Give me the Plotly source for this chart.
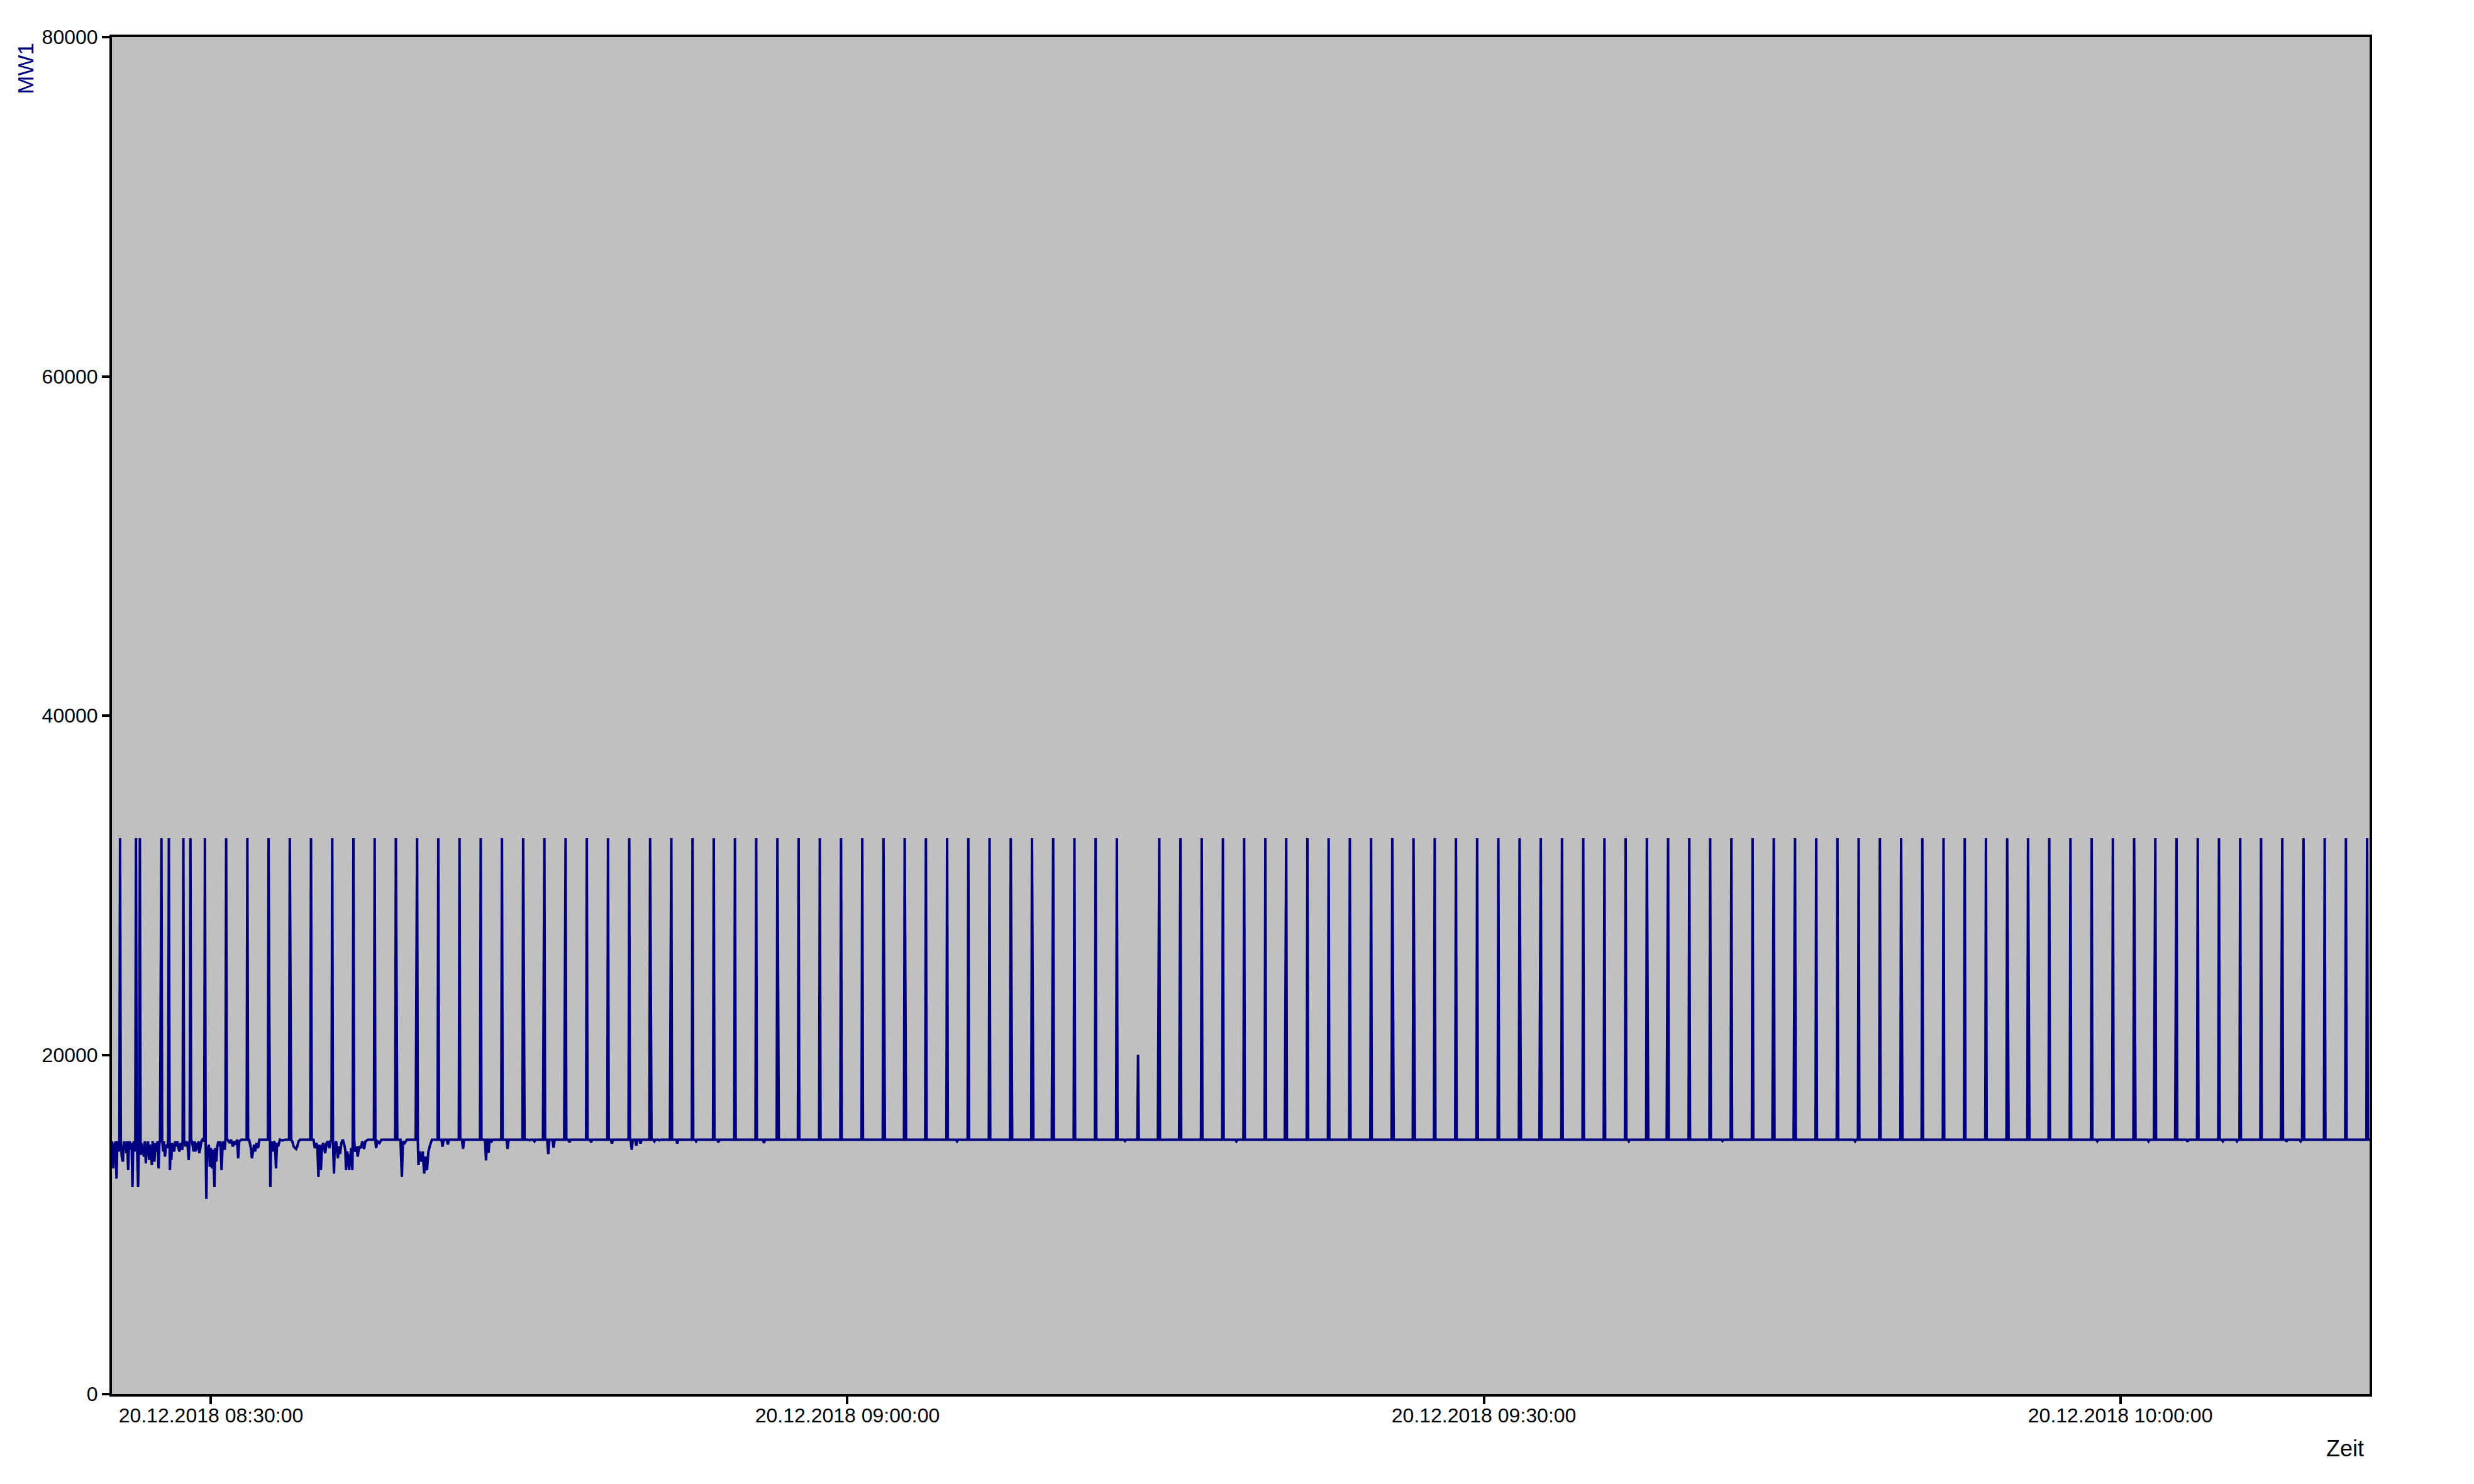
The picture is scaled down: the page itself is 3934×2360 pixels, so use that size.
import plotly.graph_objects as go

DAY = "2018-12-20"
BASE = 15000
SPIKE_LEVEL = 32767

x_start = "08:25:20"
x_end = "10:11:45"

y_ticks = [0, 20000, 40000, 60000, 80000]
x_tick_times = ["08:30:00", "09:00:00", "09:30:00", "10:00:00"]
x_tick_labels = ["20.12.2018 08:30:00", "20.12.2018 09:00:00",
                 "20.12.2018 09:30:00", "20.12.2018 10:00:00"]

# spikes reaching the 32767 level
spike_times = [
    "08:25:43", "08:26:28", "08:26:39", "08:27:40", "08:28:01", "08:28:42", "08:29:02", "08:29:43",
    "08:30:43", "08:31:43", "08:32:43", "08:33:43", "08:34:43", "08:35:43", "08:36:43", "08:37:43",
    "08:38:43", "08:39:43", "08:40:43", "08:41:43", "08:42:43", "08:43:43", "08:44:43", "08:45:43",
    "08:46:43", "08:47:43", "08:48:43", "08:49:43",
    "08:50:42", "08:51:42", "08:52:42", "08:53:42", "08:54:42", "08:55:42", "08:56:42", "08:57:42",
    "08:58:42", "08:59:42", "09:00:42", "09:01:42", "09:02:42", "09:03:42", "09:04:42", "09:05:42",
    "09:06:42", "09:07:42", "09:08:42", "09:09:42", "09:10:42", "09:11:42", "09:12:42",
    "09:14:42", "09:15:42", "09:16:42", "09:17:42", "09:18:42", "09:19:42",
    "09:20:41", "09:21:41", "09:22:41", "09:23:41", "09:24:41", "09:25:41", "09:26:41", "09:27:41",
    "09:28:41", "09:29:41", "09:30:41", "09:31:41", "09:32:41", "09:33:41", "09:34:41", "09:35:41",
    "09:36:41", "09:37:41", "09:38:41", "09:39:41",
    "09:40:40", "09:41:40", "09:42:40", "09:43:40", "09:44:40", "09:45:40", "09:46:40", "09:47:40",
    "09:48:40", "09:49:40", "09:50:40", "09:51:40", "09:52:40", "09:53:40", "09:54:40",
    "09:55:39", "09:56:39", "09:57:39", "09:58:39", "09:59:39", "10:00:39", "10:01:39", "10:02:39",
    "10:03:39", "10:04:39", "10:05:39",
    "10:06:38", "10:07:38", "10:08:38", "10:09:38", "10:10:38", "10:11:38",
]

# spikes with a lower peak
partial_spike_times = ["09:13:42"]
partial_spike_values = [20000]

# second samples next to a spike (shoulder at ~24000)
sec_times = [
    "08:27:38", "08:32:45", "08:33:45", "08:38:45", "08:39:41", "08:44:45", "08:45:41", "08:46:41",
    "08:50:44", "08:51:40", "08:56:44", "09:01:44", "09:02:44", "09:07:44", "09:08:44", "09:09:40",
    "09:14:40", "09:15:40", "09:20:39", "09:25:43", "09:26:43", "09:31:43", "09:32:39", "09:37:43",
    "09:38:39", "09:43:38", "09:44:38", "09:49:42", "09:54:42", "09:55:41", "10:00:41", "10:01:37",
    "10:02:37", "10:07:36", "10:08:36",
]
sec_values = [
    23900, 22500, 23900, 23900, 23900, 23900, 23900, 23900,
    23900, 23900, 23900, 23900, 23900, 23900, 23900, 23900,
    23900, 23900, 23900, 23900, 23900, 23900, 23900, 23900,
    23900, 23900, 23900, 23900, 23900, 23900, 23900, 23900,
    23900, 23900, 23900,
]

# noisy start of the record (all samples)
noise_times = [
    "08:25:20", "08:25:22", "08:25:24", "08:25:26", "08:25:28", "08:25:30", "08:25:33", "08:25:35",
    "08:25:37", "08:25:39", "08:25:41", "08:25:46", "08:25:48", "08:25:51", "08:25:53", "08:25:55",
    "08:25:57", "08:25:59", "08:26:01", "08:26:03", "08:26:06", "08:26:08", "08:26:10", "08:26:12",
    "08:26:14", "08:26:16", "08:26:18", "08:26:20", "08:26:22", "08:26:24", "08:26:31", "08:26:34",
    "08:26:36", "08:26:42", "08:26:44", "08:26:46", "08:26:48", "08:26:50", "08:26:53", "08:26:56",
    "08:26:58", "08:27:00", "08:27:02", "08:27:05", "08:27:07", "08:27:10", "08:27:13", "08:27:15",
    "08:27:18", "08:27:20", "08:27:23", "08:27:26", "08:27:29", "08:27:32", "08:27:34", "08:27:45",
    "08:27:47", "08:27:50", "08:27:53", "08:27:56", "08:27:58", "08:28:04", "08:28:06", "08:28:08",
    "08:28:10", "08:28:13", "08:28:16", "08:28:19", "08:28:22", "08:28:25", "08:28:28", "08:28:31",
    "08:28:34", "08:28:37", "08:28:39", "08:28:46", "08:28:48", "08:28:51", "08:28:54", "08:28:57",
    "08:28:59", "08:29:06", "08:29:08", "08:29:11", "08:29:14", "08:29:16", "08:29:19", "08:29:22",
    "08:29:25", "08:29:27", "08:29:30", "08:29:33", "08:29:36", "08:29:39", "08:29:47", "08:29:49",
    "08:29:51", "08:29:54", "08:29:57", "08:30:00", "08:30:03", "08:30:06", "08:30:10", "08:30:12",
    "08:30:15", "08:30:18", "08:30:21", "08:30:24", "08:30:27", "08:30:30", "08:30:33", "08:30:36",
    "08:30:39", "08:30:47", "08:30:53", "08:30:57", "08:31:02", "08:31:06", "08:31:10", "08:31:14",
    "08:31:17", "08:31:20", "08:31:26", "08:31:38", "08:31:48", "08:31:53", "08:31:56", "08:31:59",
    "08:32:02", "08:32:05", "08:32:09", "08:32:13", "08:32:17", "08:32:38", "08:32:48", "08:32:50",
    "08:32:55", "08:32:58", "08:33:01", "08:33:04", "08:33:07", "08:33:10", "08:33:15", "08:33:22",
    "08:33:30", "08:33:50", "08:33:54", "08:33:58", "08:34:01", "08:34:04", "08:34:08", "08:34:12",
    "08:34:50", "08:34:54", "08:34:58", "08:35:01", "08:35:04", "08:35:07", "08:35:11", "08:35:14",
    "08:35:18", "08:35:23", "08:35:27", "08:35:31", "08:35:35", "08:35:38", "08:35:48", "08:35:50",
    "08:35:54", "08:35:59", "08:36:02", "08:36:05", "08:36:09", "08:36:13", "08:36:17", "08:36:20",
    "08:36:22", "08:36:25", "08:36:28", "08:36:31", "08:36:34", "08:36:37", "08:36:40", "08:36:47",
    "08:36:49", "08:36:52", "08:36:55", "08:36:59", "08:37:04", "08:37:08", "08:37:13", "08:37:17",
    "08:37:24", "08:37:38", "08:37:47", "08:37:51", "08:37:57", "08:38:02", "08:38:56", "08:39:00",
    "08:39:03", "08:39:08", "08:39:14", "08:39:47", "08:39:50", "08:39:56", "08:39:59", "08:40:03",
    "08:40:07", "08:40:11", "08:40:15", "08:40:20", "08:40:25",
]
noise_values = [
    14900, 14500, 13300, 14800, 14400, 14900, 12700, 14600,
    14900, 14300, 14800, 14500, 14000, 13700, 14600, 14900,
    14400, 14800, 14200, 14900, 13200, 14700, 14900, 14400,
    14800, 14500, 12200, 14600, 14900, 14300, 14700, 12200,
    14600, 14100, 14800, 14200, 14600, 14000, 14900, 13600,
    14800, 14300, 14900, 13800, 14700, 14400, 13500, 14900,
    14500, 13700, 14800, 14300, 14900, 13300, 14700, 14300,
    14900, 14000, 14700, 14500, 14800, 13200, 14600, 13800,
    14800, 14500, 14300, 14900, 14600, 14900, 14500, 14300,
    14800, 14600, 14400, 14800, 14600, 14900, 14700, 13800,
    14800, 14900, 14700, 14300, 14900, 14300, 14800, 14400,
    14900, 14200, 14500, 14900, 15000, 14900, 11500, 14600,
    14200, 14700, 13400, 14500, 13300, 14400, 12200, 14500,
    13700, 14600, 14900, 14600, 14900, 13200, 14700, 14900,
    14400, 15000, 14800, 15000, 14600, 14900, 14700, 15000,
    13900, 14900, 15000, 15000, 15000, 14500, 13900, 14300,
    14700, 14300, 14800, 14500, 15000, 15000, 12200, 14900,
    14300, 14900, 14800, 13300, 14800, 14600, 15000, 14950,
    15000, 14900, 14600, 14500, 14450, 14600, 14900, 15000,
    15000, 14500, 14800, 14600, 12800, 14700, 13200, 14600,
    14800, 14200, 14800, 14900, 14500, 14900, 13000, 14600,
    14900, 13900, 14600, 14150, 14800, 15000, 14700, 14400,
    13200, 14300, 14000, 13200, 14000, 14500, 13200, 14400,
    14300, 14600, 14000, 14600, 14500, 14900, 14450, 14900,
    15000, 15000, 14500, 14900, 14800, 15000, 15000, 12800,
    14900, 14800, 15000, 13500, 14300, 13700, 14300, 13000,
    14000, 13200, 14300, 14700, 15000,
]

# isolated short dips below the baseline later on
dip_times = [
    "08:40:55", "08:41:10", "08:41:53", "08:42:58", "08:43:05", "08:43:14", "08:43:59", "08:45:01",
    "08:45:15", "08:45:54", "08:46:09", "08:46:54", "08:47:55", "08:48:54", "08:49:50", "08:50:03",
    "08:50:15", "08:50:54", "08:51:08", "08:51:59", "08:52:52", "08:53:55", "08:56:04", "09:05:10",
    "09:13:05", "09:18:20", "09:36:50", "09:41:15", "09:47:30", "09:58:55", "10:01:20", "10:03:10",
    "10:04:50", "10:05:30", "10:07:50", "10:08:30",
]
dip_values = [
    14590, 14710, 14460, 13780, 14220, 14900, 14460, 14960,
    14900, 14150, 14520, 14840, 14840, 14770, 14400, 14650,
    14770, 14900, 14960, 14770, 14900, 14840, 14800, 14900,
    14920, 14900, 14900, 14920, 14900, 14900, 14900, 14880,
    14900, 14900, 14880, 14900,
]

assert len(noise_times) == len(noise_values)
assert len(dip_times) == len(dip_values)
assert len(sec_times) == len(sec_values)


def secs(t):
    h, m, s = map(int, t.split(":"))
    return h * 3600 + m * 60 + s


def stamp(s):
    return f"{DAY} {s // 3600:02d}:{(s % 3600) // 60:02d}:{s % 60:02d}"


pts = {}
for t, v in zip(noise_times, noise_values):
    pts[secs(t)] = v
pts.setdefault(secs(x_start), BASE)
pts.setdefault(secs(x_end), BASE)

all_spikes = [(secs(t), SPIKE_LEVEL) for t in spike_times] + \
             [(secs(t), v) for t, v in zip(partial_spike_times, partial_spike_values)]
spike_secs = sorted(s for s, _ in all_spikes)

# shoulders beside spikes
for t, v in zip(sec_times, sec_values):
    ts = secs(t)
    near = min(spike_secs, key=lambda s: abs(s - ts))
    side = 1 if ts > near else -1
    pts[ts] = v
    pts.setdefault(ts + 2 * side, BASE)

for ts, v in all_spikes:
    pts[ts] = v
    pts.setdefault(ts - 2, BASE)
    pts.setdefault(ts + 2, BASE)

for t, v in zip(dip_times, dip_values):
    ts = secs(t)
    pts.setdefault(ts - 3, BASE)
    pts[ts] = v
    pts.setdefault(ts + 3, BASE)

keys = sorted(pts)
xs = [stamp(k) for k in keys]
ys = [pts[k] for k in keys]

FONT = "Arial, 'Liberation Sans', sans-serif"

fig = go.Figure()
fig.add_trace(go.Scatter(
    x=xs, y=ys, mode="lines",
    line=dict(color="#000080", width=4, simplify=False),
    hoverinfo="skip", showlegend=False,
))

fig.update_layout(
    width=3918, height=2344,
    margin=dict(l=170, r=158, t=51, b=135),
    paper_bgcolor="white",
    plot_bgcolor="#C0C0C0",
    font=dict(family=FONT, size=32, color="black"),
    showlegend=False,
    xaxis=dict(
        type="date",
        range=[f"{DAY} {x_start}", f"{DAY} {x_end}"],
        tickvals=[f"{DAY} {t}" for t in x_tick_times],
        ticktext=x_tick_labels,
        ticks="outside", ticklen=12, tickwidth=4, tickcolor="black",
        ticklabelstandoff=-9,
        showline=True, linewidth=4, linecolor="black", mirror=True,
        showgrid=False, zeroline=False,
        tickfont=dict(family=FONT, size=32, color="black"),
    ),
    yaxis=dict(
        range=[0, 80000],
        tickvals=y_ticks,
        ticktext=[str(v) for v in y_ticks],
        ticks="outside", ticklen=12, tickwidth=4, tickcolor="black",
        showline=True, linewidth=4, linecolor="black", mirror=True,
        showgrid=False, zeroline=False,
        tickfont=dict(family=FONT, size=32, color="black"),
    ),
    annotations=[
        dict(text="MW1", xref="paper", yref="paper", x=-0.0384, y=0.977,
             xanchor="center", yanchor="middle", textangle=-90, showarrow=False,
             font=dict(family=FONT, size=35, color="#000080")),
        dict(text="Zeit", xref="paper", yref="paper", x=0.989, y=-0.040,
             xanchor="center", yanchor="middle", showarrow=False,
             font=dict(family=FONT, size=36, color="black")),
    ],
)

fig.write_html("out.html")
